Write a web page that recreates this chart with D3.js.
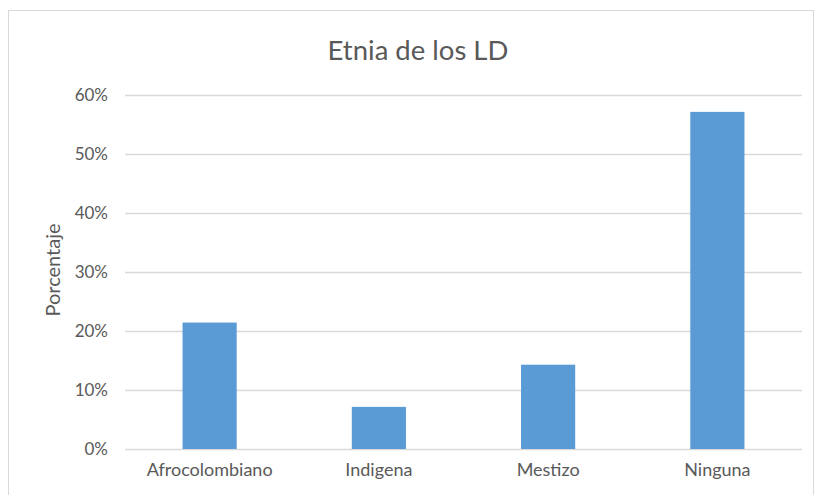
<!DOCTYPE html>
<html>
<head>
<meta charset="utf-8">
<script src="https://cdn.jsdelivr.net/npm/d3@7"></script>
<style>
  html, body { margin: 0; padding: 0; background: #fff; }
  svg { display: block; }
  svg text { font-family: Lato, "Open Sans", sans-serif; }
</style>
</head>
<body>
<svg id="chart" width="814" height="495"></svg>
<script>
// Ethnicity shares
const categories = ["Afrocolombiano", "Indigena", "Mestizo", "Ninguna"];
const values = [0.2143, 0.0714, 0.1429, 0.5714];
const yTicks = [0, 0.1, 0.2, 0.3, 0.4, 0.5, 0.6];
const titleText = "Etnia de los LD";
const yAxisTitle = "Porcentaje";

const svg = d3.select("#chart");
const margin = { top: 95, right: 12, bottom: 46, left: 125 };
const width = 814 - margin.left - margin.right;
const height = 495 - margin.top - margin.bottom;
const textColor = "#595959";

// Chart frame
svg.append("rect")
  .attr("x", 8.5).attr("y", 10.5)
  .attr("width", 805).attr("height", 500)
  .attr("fill", "#fff").attr("stroke", "#d9d9d9").attr("stroke-width", 1);

const g = svg.append("g").attr("transform", `translate(${margin.left},${margin.top})`);

const x = d3.scaleBand().domain(categories).range([0, width])
  .paddingInner(0.68).paddingOuter(0.34);
const y = d3.scaleLinear().domain([0, 0.6]).range([height, 0]);

// Gridlines
g.append("g")
  .selectAll("line")
  .data(yTicks)
  .join("line")
  .attr("x1", 0).attr("x2", width)
  .attr("y1", d => Math.round(y(d)) + 0.5).attr("y2", d => Math.round(y(d)) + 0.5)
  .attr("stroke", "#d9d9d9").attr("stroke-width", 1.3);

// Bars
g.append("g")
  .selectAll("rect")
  .data(values)
  .join("rect")
  .attr("x", (d, i) => x(categories[i]))
  .attr("y", d => y(d))
  .attr("width", x.bandwidth())
  .attr("height", d => height - y(d))
  .attr("fill", "#5b9bd5");

// Y axis labels
const yAxis = g.append("g")
  .call(d3.axisLeft(y).tickValues(yTicks).tickFormat(d3.format(".0%")).tickSize(0).tickPadding(17));
yAxis.select(".domain").remove();
yAxis.selectAll("text").attr("fill", textColor).style("font-size", "17px");

// X axis labels
const xAxis = g.append("g")
  .attr("transform", `translate(0,${height})`)
  .call(d3.axisBottom(x).tickSize(0).tickPadding(14));
xAxis.select(".domain").remove();
xAxis.selectAll("text").attr("fill", textColor).style("font-size", "18px");

// Title
svg.append("text")
  .attr("x", 418).attr("y", 60)
  .attr("text-anchor", "middle")
  .attr("fill", textColor)
  .style("font-size", "27.5px")
  .text(titleText);

// Y axis title
svg.append("text")
  .attr("transform", `translate(60,${margin.top + height / 2 - 2}) rotate(-90)`)
  .attr("text-anchor", "middle")
  .attr("fill", textColor)
  .style("font-size", "20px")
  .text(yAxisTitle);
</script>
</body>
</html>
